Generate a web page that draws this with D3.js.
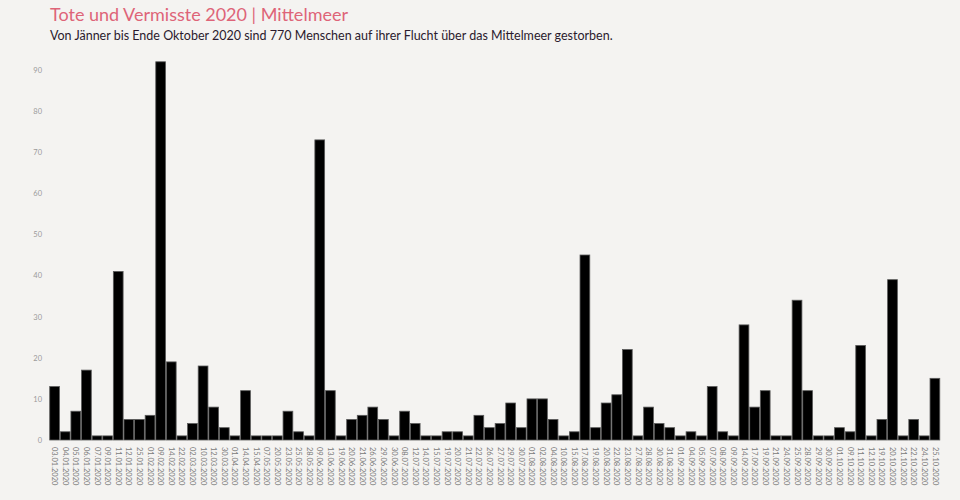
<!DOCTYPE html>
<html>
<head>
<meta charset="utf-8">
<script src="https://cdn.jsdelivr.net/npm/d3@7"></script>
<style>
  html, body { margin: 0; padding: 0; background: #f4f3f1; }
  svg { display: block; }
</style>
</head>
<body>
<svg id="chart" width="960" height="500"></svg>
<script>
const dates = ["03.01.2020","04.01.2020","05.01.2020","06.01.2020","07.01.2020","09.01.2020","11.01.2020","12.01.2020","25.01.2020","01.02.2020",
"09.02.2020","14.02.2020","22.02.2020","02.03.2020","10.03.2020","12.03.2020","30.03.2020","01.04.2020","14.04.2020","15.04.2020",
"07.05.2020","20.05.2020","23.05.2020","25.05.2020","28.05.2020","09.06.2020","13.06.2020","19.06.2020","20.06.2020","21.06.2020",
"26.06.2020","29.06.2020","30.06.2020","08.07.2020","12.07.2020","14.07.2020","15.07.2020","19.07.2020","20.07.2020","21.07.2020",
"22.07.2020","26.07.2020","27.07.2020","29.07.2020","30.07.2020","01.08.2020","02.08.2020","04.08.2020","10.08.2020","15.08.2020",
"17.08.2020","19.08.2020","20.08.2020","22.08.2020","23.08.2020","27.08.2020","28.08.2020","30.08.2020","31.08.2020","01.09.2020",
"04.09.2020","05.09.2020","07.09.2020","08.09.2020","09.09.2020","14.09.2020","17.09.2020","19.09.2020","21.09.2020","24.09.2020",
"25.09.2020","28.09.2020","29.09.2020","30.09.2020","01.10.2020","09.10.2020","11.10.2020","12.10.2020","19.10.2020","20.10.2020",
"21.10.2020","22.10.2020","24.10.2020","25.10.2020"];
const deaths = [13,2,7,17,1,1,41,5,5,6,
92,19,1,4,18,8,3,1,12,1,
1,1,7,2,1,73,12,1,5,6,
8,5,1,7,4,1,1,2,2,1,
6,3,4,9,3,10,10,5,1,2,
45,3,9,11,22,1,8,4,3,1,
2,1,13,2,1,28,8,12,1,1,
34,12,1,1,3,2,23,1,5,39,
1,5,1,15];
const yTicks = [0,10,20,30,40,50,60,70,80,90];
const titleText = "Tote und Vermisste 2020 | Mittelmeer";
const subtitleText = "Von Jänner bis Ende Oktober 2020 sind 770 Menschen auf ihrer Flucht über das Mittelmeer gestorben.";

const data = dates.map((d, i) => ({ date: d, value: deaths[i] }));
const svg = d3.select("#chart");
const font = "Lato, 'Open Sans', sans-serif";

svg.append("rect").attr("width", 960).attr("height", 500).attr("fill", "#f4f3f1");

svg.append("text").attr("x", 50).attr("y", 21)
  .attr("font-family", font).attr("font-size", 18).attr("fill", "#de6478")
  .text(titleText);
svg.append("text").attr("x", 50).attr("y", 40)
  .attr("font-family", font).attr("font-size", 12.5).attr("fill", "#2b1a2d")
  .text(subtitleText);

const x = d3.scaleBand().domain(dates).range([49.5, 940]).paddingInner(0.08).paddingOuter(0.02);
const y = d3.scaleLinear().domain([0, 90]).range([440, 70]);

const yAxis = svg.append("g").attr("transform", "translate(42,0)")
  .call(d3.axisLeft(y).tickValues(yTicks).tickSize(0).tickPadding(0));
yAxis.select(".domain").remove();
yAxis.selectAll("text").attr("font-family", font).attr("font-size", 7.5).attr("fill", "#9a9a9a");

svg.append("g").selectAll("rect").data(data).join("rect")
  .attr("x", d => x(d.date))
  .attr("y", d => y(d.value))
  .attr("width", x.bandwidth())
  .attr("height", d => y(0) - y(d.value))
  .attr("fill", "#000")
  .attr("stroke", "#5a5a5a")
  .attr("stroke-width", 0.8);

const xAxis = svg.append("g").attr("transform", "translate(0,444)")
  .call(d3.axisBottom(x).tickSize(0).tickPadding(0));
xAxis.select(".domain").remove();
xAxis.selectAll("text")
  .attr("font-family", font).attr("font-size", 7.5).attr("fill", "#7a7a7a")
  .attr("text-anchor", "start")
  .attr("transform", "rotate(90)")
  .attr("x", 3).attr("y", 0).attr("dy", "0.32em");
</script>
</body>
</html>
